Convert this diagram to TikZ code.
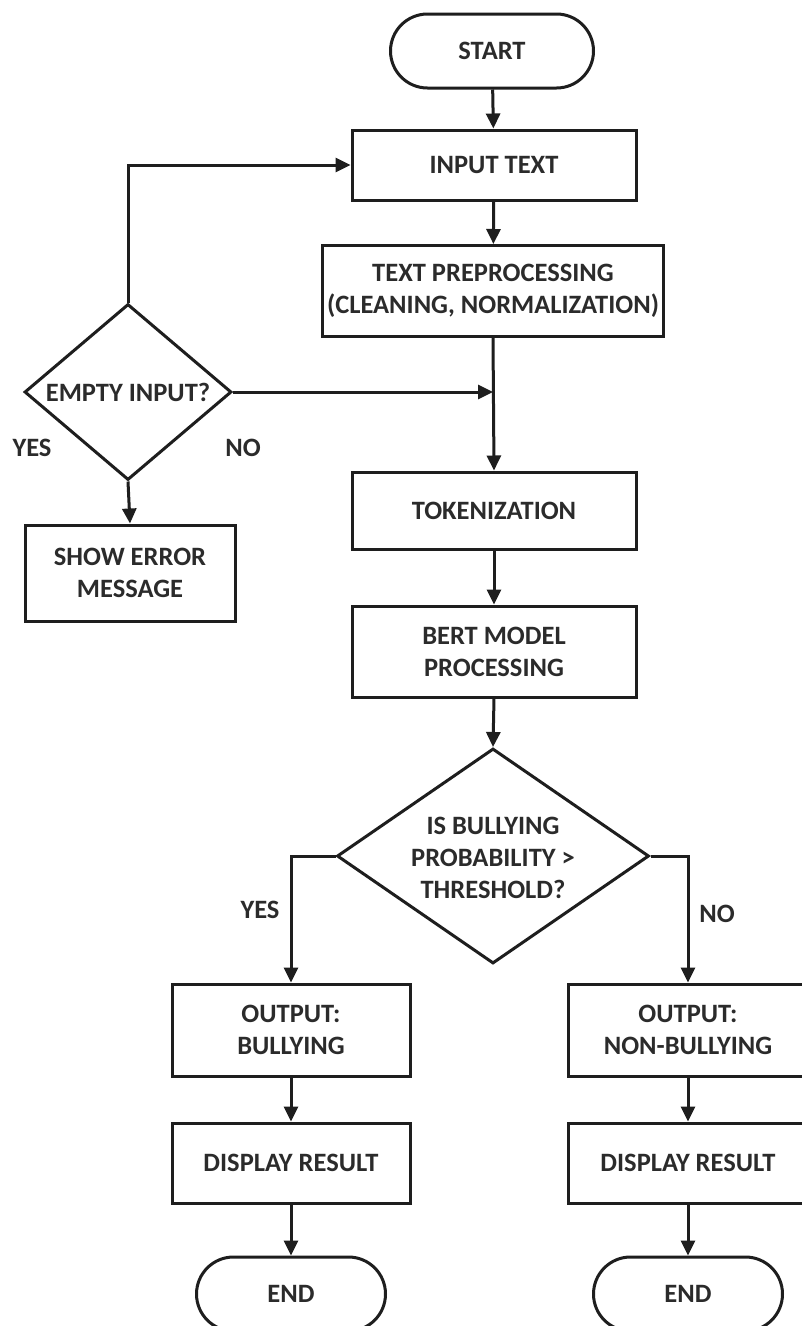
\documentclass[tikz,border=0pt]{standalone}
\usepackage{fontspec}
\setmainfont{Carlito}
\usetikzlibrary{shapes.geometric,arrows.meta,calc}
\definecolor{ln}{HTML}{1E1E1E}
\definecolor{txt}{HTML}{2B2B2B}
\begin{document}
\begin{tikzpicture}[x=1pt,y=-1pt,
  every node/.style={font=\fontsize{26.5}{32}\selectfont\bfseries, text=txt, align=center, inner sep=0pt},
  stepbox/.style={draw=ln, line width=3pt, rectangle},
  pill/.style={draw=ln, line width=3pt, rectangle, rounded corners=37pt},
  decision/.style={draw=ln, line width=3pt, diamond},
  conn/.style={draw=ln, line width=3pt},
  arr/.style={conn, -{Triangle[width=14pt,length=15pt]}},
  lbl/.style={}]
\useasboundingbox (0,0) rectangle (802,1326);
\clip (0,0) rectangle (802,1326);
\fill[white] (0,0) rectangle (802,1326);

\node[pill, minimum width=203pt, minimum height=74pt] (start) at (492,51) {START};
\node[stepbox, minimum width=284pt, minimum height=70pt] (input) at (494,165) {INPUT TEXT};
\node[stepbox, minimum width=341pt, minimum height=91pt] (pre) at (493,291) {TEXT PREPROCESSING\\(CLEANING, NORMALIZATION)};
\node[decision, minimum width=207pt, minimum height=176pt] (empty) at (128,392) {};
\node (emptytxt) at (128,392) {EMPTY INPUT?};
\node[stepbox, minimum width=210pt, minimum height=96pt] (err) at (130,573) {SHOW ERROR\\MESSAGE};
\node[stepbox, minimum width=284pt, minimum height=77pt] (tok) at (494,510.5) {TOKENIZATION};
\node[stepbox, minimum width=284pt, minimum height=91pt] (bert) at (494,651.5) {BERT MODEL\\PROCESSING};
\node[decision, minimum width=312pt, minimum height=215pt] (dec) at (493,856) {};
\node (dectxt) at (493,858) {IS BULLYING\\PROBABILITY >\\THRESHOLD?};
\node[stepbox, minimum width=238pt, minimum height=92pt] (outb) at (291,1030) {OUTPUT:\\BULLYING};
\node[stepbox, minimum width=238pt, minimum height=80pt] (dispb) at (291,1163) {DISPLAY RESULT};
\node[pill, minimum width=189pt, minimum height=74pt] (endb) at (291,1294) {END};
\node[stepbox, minimum width=240pt, minimum height=92pt] (outn) at (688,1030) {OUTPUT:\\NON-BULLYING};
\node[stepbox, minimum width=240pt, minimum height=80pt] (dispn) at (688,1163) {DISPLAY RESULT};
\node[pill, minimum width=189pt, minimum height=74pt] (endn) at (688,1294) {END};

\node[lbl] (yes1) at (32,448) {YES};
\node[lbl] (no1) at (243,448) {NO};
\node[lbl] (yes2) at (260,910) {YES};
\node[lbl] (no2) at (717,914) {NO};

\coordinate (junc) at (pre.south |- empty.east);

\draw[arr] (start) -- (input);
\draw[arr] (input) -- (pre);
\draw[arr] (pre.south) -- (tok.north);
\draw[arr] (empty.east) -- (junc);
\draw[arr] (empty.north) |- (input.west);
\draw[arr] (empty.south) -- (err.north);
\draw[arr] (tok) -- (bert);
\draw[arr] (bert.south) -- (dec.north);
\draw[arr] (dec.west) -| (outb.north);
\draw[arr] (dec.east) -| (outn.north);
\draw[arr] (outb) -- (dispb);
\draw[arr] (dispb) -- (endb);
\draw[arr] (outn) -- (dispn);
\draw[arr] (dispn) -- (endn);
\end{tikzpicture}
\end{document}
